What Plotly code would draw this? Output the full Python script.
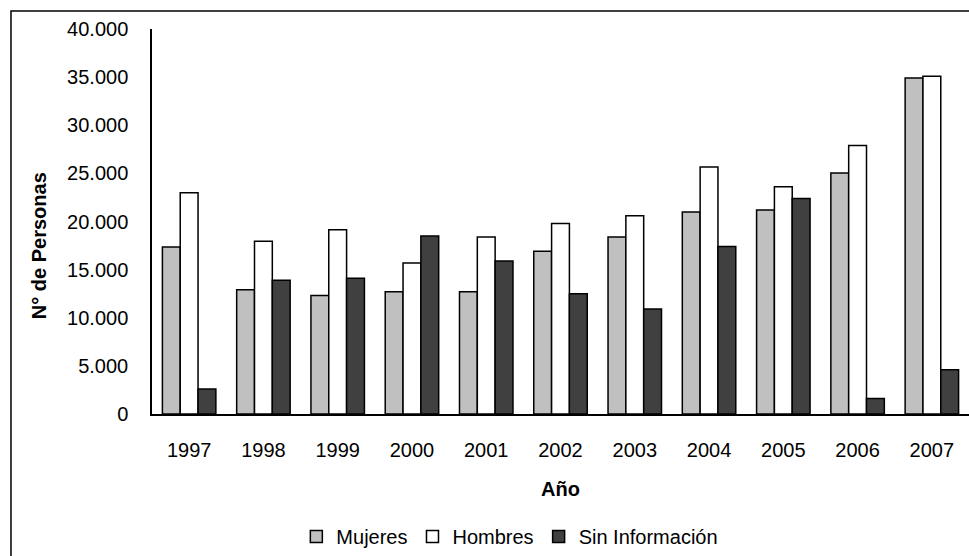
import plotly.graph_objects as go

years = ["1997", "1998", "1999", "2000", "2001", "2002", "2003", "2004", "2005", "2006", "2007"]
mujeres = [17350, 12900, 12300, 12700, 12700, 16900, 18400, 21000, 21200, 25050, 34900]
hombres = [23000, 17950, 19150, 15700, 18400, 19800, 20600, 25650, 23600, 27900, 35100]
sin_info = [2600, 13900, 14100, 18500, 15900, 12500, 10900, 17400, 22400, 1600, 4600]

series_names = ["Mujeres", "Hombres", "Sin Información"]
series_colors = ["#c0c0c0", "#ffffff", "#404040"]

FONT = "Liberation Sans, Arial, sans-serif"
FS = 20

fig = go.Figure()
for name, values, color in zip(series_names, [mujeres, hombres, sin_info], series_colors):
    fig.add_trace(go.Bar(
        x=years, y=values, name=name,
        marker=dict(color=color, line=dict(color="#000000", width=1.5)),
    ))

fig.update_layout(
    width=969, height=556,
    margin=dict(l=152, r=0, t=29, b=142),
    paper_bgcolor="white", plot_bgcolor="white",
    barmode="group", bargap=0.28, bargroupgap=0,
    separators=",.",
    font=dict(family=FONT, size=FS, color="#000000"),
    showlegend=True,
    legend=dict(
        orientation="h", xref="paper", x=0.438, xanchor="center",
        yref="container", y=0.035, yanchor="middle",
        font=dict(family=FONT, size=FS, color="#000000"),
        itemwidth=30, tracegroupgap=0,
    ),
    xaxis=dict(
        showline=True, linecolor="#000000", linewidth=1.5,
        showgrid=False, ticks="", ticklabelstandoff=17,
        tickfont=dict(size=FS),
        title=dict(text="<b>Año</b>", font=dict(size=FS), standoff=22),
    ),
    yaxis=dict(
        range=[0, 40000], dtick=5000, tickformat=",d",
        showline=True, linecolor="#000000", linewidth=1.5,
        showgrid=False, zeroline=False, ticks="", ticklabelstandoff=18,
        tickfont=dict(size=FS),
    ),
    annotations=[dict(
        text="<b>N° de Personas</b>", textangle=-90,
        xref="paper", yref="paper", x=-0.1383, y=0.436,
        xanchor="center", yanchor="middle", showarrow=False,
        font=dict(family=FONT, size=FS, color="#000000"),
    )],
    shapes=[dict(
        type="rect", xref="paper", yref="paper",
        x0=-0.1726, x1=1.05, y0=-0.5, y1=1.0468,
        line=dict(color="#000000", width=1.5), fillcolor="rgba(0,0,0,0)", layer="below",
    )],
)

fig.write_html("out.html")
